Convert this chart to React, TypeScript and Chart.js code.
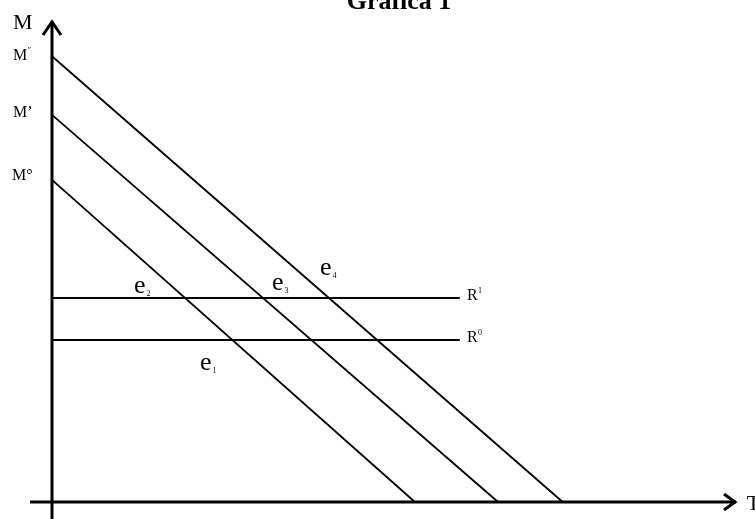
import React, { useEffect, useRef } from "react";
import { Chart, registerables } from "chart.js";

Chart.register(...registerables);

// Axis ranges (data units)
const X_MIN = -0.5;
const X_MAX = 15.55;
const Y_MIN = -0.4;
const Y_MAX = 11.32;

// Demand lines: intercept on M axis and on T axis
const demandNames = ["M°", "M’", "M″"];
const demandMIntercepts = [7.58, 9.11, 10.49];
const demandTIntercepts = [8.25, 10.14, 11.61];

// Horizontal R lines
const rNames = ["R⁰", "R¹"];
const rLevels = [3.81, 4.8];
const rEnd = 9.27;

// Text labels
const labelTexts = ["M", "T", "M", "M’", "M°", "R", "R", "e", "e", "e", "e"];
const labelSups = ["", "", "″", "", "", "1", "0", "", "", "", ""];
const labelSubs = ["", "", "", "", "", "", "", "1", "2", "3", "4"];
const labelX = [-0.886, 15.795, -0.886, -0.886, -0.909, 9.432, 9.432, 3.364, 1.864, 5.0, 6.091];
const labelY = [11.129, -0.188, 10.4, 9.059, 7.576, 4.753, 3.765, 3.106, 4.918, 4.988, 5.341];
const labelSizes = [22, 22, 16, 16, 16, 16, 16, 26, 26, 26, 26];

const titleText = "Gráfica 1";

const FONT = "'Liberation Serif', 'Times New Roman', serif";

const decorPlugin = {
  id: "decor",
  afterDatasetsDraw(chart: any) {
    const ctx = chart.ctx;
    const xs = chart.scales.x;
    const ys = chart.scales.y;
    const ox = xs.getPixelForValue(0);
    const oy = ys.getPixelForValue(0);
    const yTip = ys.getPixelForValue(Y_MAX);
    const xTip = xs.getPixelForValue(X_MAX);
    ctx.save();
    ctx.strokeStyle = "#000";
    ctx.lineWidth = 3;
    ctx.lineJoin = "miter";
    ctx.lineCap = "butt";
    // y arrow
    ctx.beginPath();
    ctx.moveTo(ox - 9, yTip + 14);
    ctx.lineTo(ox, yTip + 1);
    ctx.lineTo(ox + 9, yTip + 14);
    ctx.stroke();
    // x arrow
    ctx.beginPath();
    ctx.moveTo(xTip - 12, oy - 8);
    ctx.lineTo(xTip - 1, oy);
    ctx.lineTo(xTip - 12, oy + 8);
    ctx.stroke();

    // labels
    ctx.fillStyle = "#000";
    ctx.textBaseline = "alphabetic";
    ctx.textAlign = "left";
    for (let i = 0; i < labelTexts.length; i++) {
      const px = xs.getPixelForValue(labelX[i]);
      const py = ys.getPixelForValue(labelY[i]);
      const size = labelSizes[i];
      ctx.font = `${size}px ${FONT}`;
      ctx.fillText(labelTexts[i], px, py);
      const w = ctx.measureText(labelTexts[i]).width;
      if (labelSups[i]) {
        const s = Math.round(size * 0.5);
        ctx.font = `${s}px ${FONT}`;
        ctx.fillText(labelSups[i], px + w + 0.5, py - size * 0.42);
      }
      if (labelSubs[i]) {
        const s = Math.round(size * 0.3);
        ctx.font = `${s}px ${FONT}`;
        ctx.fillText(labelSubs[i], px + w + 1, py + 3);
      }
    }
    // title
    ctx.font = `bold 26px ${FONT}`;
    ctx.textAlign = "center";
    ctx.fillText(titleText, 399, 9);
    ctx.restore();
  },
};

export default function App() {
  const ref = useRef<HTMLCanvasElement | null>(null);
  useEffect(() => {
    if (!ref.current) return;
    const datasets: any[] = [];
    // axes
    datasets.push({
      label: "M axis",
      data: [
        { x: 0, y: Y_MIN },
        { x: 0, y: Y_MAX },
      ],
      borderColor: "#000",
      borderWidth: 3,
    });
    datasets.push({
      label: "T axis",
      data: [
        { x: X_MIN, y: 0 },
        { x: X_MAX, y: 0 },
      ],
      borderColor: "#000",
      borderWidth: 3,
    });
    for (let i = 0; i < rLevels.length; i++) {
      datasets.push({
        label: rNames[i],
        data: [
          { x: 0, y: rLevels[i] },
          { x: rEnd, y: rLevels[i] },
        ],
        borderColor: "#000",
        borderWidth: 2,
      });
    }
    for (let i = 0; i < demandNames.length; i++) {
      datasets.push({
        label: demandNames[i],
        data: [
          { x: 0, y: demandMIntercepts[i] },
          { x: demandTIntercepts[i], y: 0 },
        ],
        borderColor: "#000",
        borderWidth: 1.8,
      });
    }
    datasets.forEach((d) => {
      d.showLine = true;
      d.pointRadius = 0;
      d.pointHoverRadius = 0;
      d.fill = false;
      d.clip = false;
      d.tension = 0;
    });
    const chart = new Chart(ref.current, {
      type: "scatter",
      data: { datasets },
      options: {
        animation: false,
        responsive: false,
        maintainAspectRatio: false,
        events: [],
        layout: { padding: { left: 30, right: 19, top: 21, bottom: 0 } },
        plugins: {
          legend: { display: false },
          title: { display: false },
          tooltip: { enabled: false },
        },
        scales: {
          x: { type: "linear", min: X_MIN, max: X_MAX, display: false },
          y: { type: "linear", min: Y_MIN, max: Y_MAX, display: false },
        },
      },
      plugins: [decorPlugin],
    });
    return () => chart.destroy();
  }, []);
  return (
    <div style={{ position: "fixed", left: 0, top: 0, width: 755, height: 519, background: "#fff" }}>
      <canvas ref={ref} width={755} height={519} style={{ display: "block", width: 755, height: 519 }} />
    </div>
  );
}
